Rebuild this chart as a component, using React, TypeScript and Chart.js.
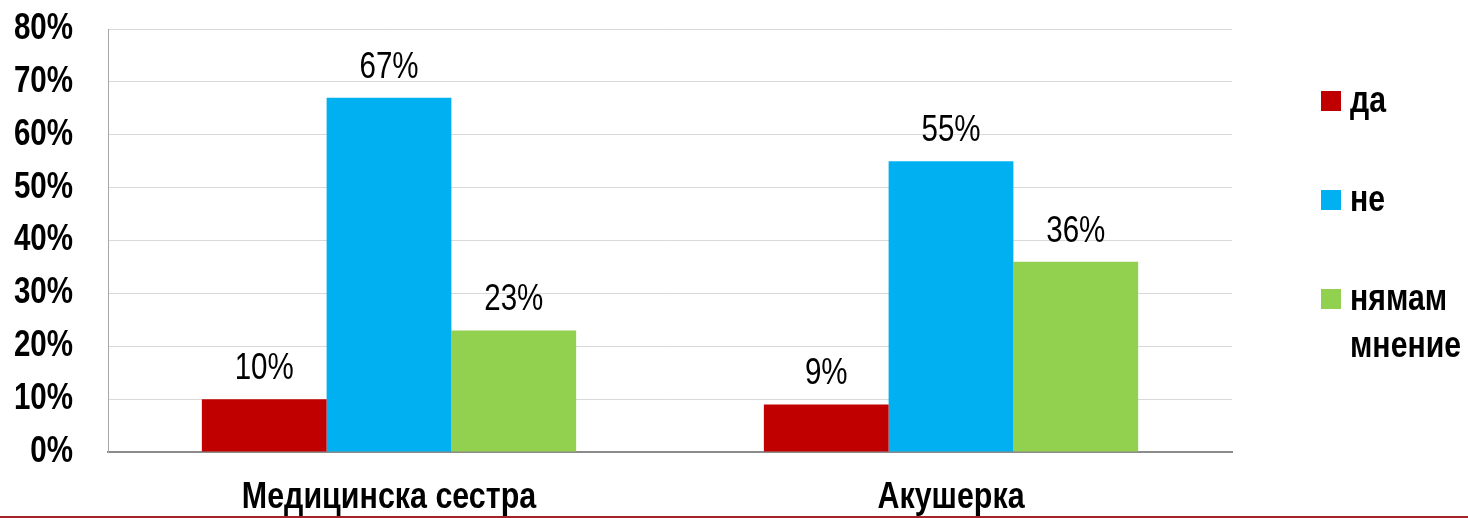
import React, { useEffect, useRef } from "react";
import { Chart, registerables } from "chart.js";

Chart.register(...registerables);

const categories = ["Медицинска сестра", "Акушерка"];
const seriesNames = ["да", "не", "нямам мнение"];
const seriesLegendLines = [["да"], ["не"], ["нямам", "мнение"]];
const daValues = [10, 9];
const neValues = [67, 55];
const nyamamValues = [23, 36];
const seriesColors = ["#C00000", "#00B0F0", "#92D050"];
const yTicks = [0, 10, 20, 30, 40, 50, 60, 70, 80];

const FONT = "'Liberation Sans', Arial, sans-serif";

function narrowText(ctx: CanvasRenderingContext2D, text: string, x: number, y: number, sx = 0.82) {
  ctx.save();
  ctx.translate(x, y);
  ctx.scale(sx, 1);
  ctx.fillText(text, 0, 0);
  ctx.restore();
}

export default function App() {
  const ref = useRef<HTMLCanvasElement | null>(null);

  useEffect(() => {
    document.body.style.margin = "0";
    const canvas = ref.current!;
    const valuesList = [daValues, neValues, nyamamValues];

    const textPlugin = {
      id: "narrowTexts",
      afterDatasetsDraw(chart: any) {
        const ctx: CanvasRenderingContext2D = chart.ctx;
        ctx.save();
        // value labels
        ctx.font = `normal 36px ${FONT}`;
        ctx.fillStyle = "#000";
        ctx.textAlign = "center";
        ctx.textBaseline = "alphabetic";
        chart.data.datasets.forEach((ds: any, di: number) => {
          const meta = chart.getDatasetMeta(di);
          meta.data.forEach((el: any, i: number) => {
            narrowText(ctx, ds.data[i] + "%", el.x, el.y - 20);
          });
        });
        // y tick labels
        const ys = chart.scales.y;
        ctx.font = `bold 36px ${FONT}`;
        ctx.textAlign = "right";
        ctx.textBaseline = "middle";
        ys.ticks.forEach((t: any) => {
          narrowText(ctx, t.value + "%", chart.chartArea.left - 35, ys.getPixelForValue(t.value));
        });
        // x tick labels
        const xs = chart.scales.x;
        ctx.textAlign = "center";
        ctx.textBaseline = "alphabetic";
        chart.data.labels.forEach((lab: string, i: number) => {
          narrowText(ctx, lab, xs.getPixelForTick(i), chart.chartArea.bottom + 56, 0.845);
        });
        ctx.restore();
      },
      afterDraw(chart: any) {
        const ctx: CanvasRenderingContext2D = chart.ctx;
        const area = chart.chartArea;
        ctx.save();
        const x0 = area.right + 89;
        const y0 = 91;
        const step = 99;
        ctx.textAlign = "left";
        ctx.textBaseline = "alphabetic";
        ctx.font = `bold 36px ${FONT}`;
        seriesLegendLines.forEach((lines, i) => {
          const y = y0 + i * step;
          ctx.fillStyle = seriesColors[i];
          ctx.fillRect(x0, y, 20, 20);
          ctx.fillStyle = "#000";
          lines.forEach((line, li) => {
            narrowText(ctx, line, x0 + 29, y + 21 + li * 47, 0.84);
          });
        });
        // bottom slide rule
        ctx.fillStyle = "#A52326";
        ctx.fillRect(0, chart.height - 2, chart.width, 2);
        ctx.restore();
      },
    };

    const chart = new Chart(canvas, {
      type: "bar",
      data: {
        labels: categories,
        datasets: seriesNames.map((name, i) => ({
          label: name,
          data: valuesList[i],
          backgroundColor: seriesColors[i],
          borderWidth: 0,
          categoryPercentage: 0.666,
          barPercentage: 1.0,
        })),
      },
      options: {
        responsive: false,
        animation: false,
        devicePixelRatio: 1,
        layout: { padding: { top: 29, right: 236, left: 0, bottom: 0 } },
        plugins: {
          legend: { display: false },
          tooltip: { enabled: false },
        },
        scales: {
          x: {
            grid: { display: false, drawTicks: false },
            border: { display: true, color: "#8C8C8C", width: 2 },
            ticks: { display: false },
            afterFit(scale: any) {
              scale.height = 66;
            },
          },
          y: {
            min: 0,
            max: 80,
            afterBuildTicks(scale: any) {
              scale.ticks = yTicks.map((v) => ({ value: v }));
            },
            grid: { color: "#D9D9D9", lineWidth: 1, drawTicks: false },
            border: { display: true, color: "#A6A6A6", width: 1 },
            ticks: { display: false },
            afterFit(scale: any) {
              scale.width = 108;
            },
          },
        },
      },
      plugins: [textPlugin],
    });
    return () => chart.destroy();
  }, []);

  return (
    <div style={{ position: "fixed", left: 0, top: 0, width: 1468, height: 518, background: "#fff" }}>
      <canvas ref={ref} width={1468} height={518} style={{ width: 1468, height: 518, display: "block" }} />
    </div>
  );
}
